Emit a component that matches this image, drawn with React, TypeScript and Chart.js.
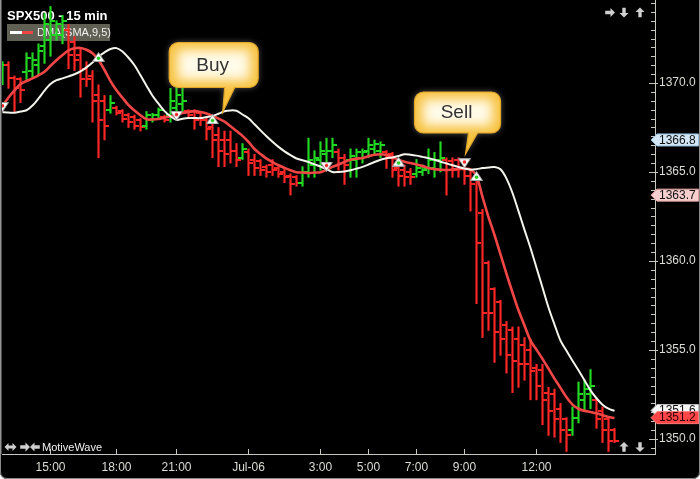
import React, { useEffect, useRef } from 'react';
import { Chart, registerables } from 'chart.js';

Chart.register(...registerables);

// ---------- data (15-min bars, index 0..102) ----------
const opens = [
  1370.4, 1371.0, 1370.3, 1370.2, 1370.6, 1370.7, 1371.0, 1372.1, 1372.4, 1372.7,
  1372.7, 1373.0, 1372.3, 1371.6, 1370.8, 1370.4, 1369.3, 1369.0, 1368.5, 1368.6,
  1368.4, 1368.2, 1368.1, 1367.9, 1367.6, 1367.9, 1368.2, 1368.1, 1368.2, 1368.6,
  1368.8, 1368.4, 1368.4, 1368.3, 1367.9, 1367.5, 1367.1, 1366.8, 1366.8, 1366.2,
  1365.8, 1366.1, 1365.7, 1365.6, 1365.3, 1365.4, 1365.2, 1365.0, 1364.8, 1364.7,
  1364.4, 1365.0, 1365.4, 1365.7, 1366.0, 1366.2, 1366.1, 1365.8, 1365.7, 1365.7,
  1365.8, 1366.2, 1366.3, 1366.2, 1366.1, 1366.0, 1365.2, 1365.1, 1365.0, 1364.9,
  1365.0, 1365.2, 1365.2, 1365.7, 1365.7, 1365.6, 1365.7, 1365.2, 1364.8, 1364.6,
  1362.7, 1359.9, 1358.4, 1357.7, 1356.4, 1356.1, 1355.6, 1355.3, 1355.0, 1354.0,
  1353.9, 1352.6, 1352.5, 1351.7, 1351.1, 1350.5, 1351.2, 1352.2, 1352.5, 1352.2,
  1351.6, 1351.1, 1350.5,
];
const highs = [
  1371.2, 1371.2, 1370.4, 1370.3, 1371.7, 1371.7, 1372.2, 1373.9, 1374.3, 1373.5,
  1373.8, 1373.3, 1372.6, 1372.0, 1371.2, 1370.7, 1369.9, 1369.3, 1369.3, 1368.7,
  1368.5, 1368.3, 1368.2, 1368.0, 1368.4, 1368.3, 1368.6, 1368.2, 1369.7, 1369.8,
  1369.7, 1368.5, 1368.5, 1368.4, 1368.1, 1367.8, 1367.5, 1367.3, 1367.3, 1366.6,
  1366.6, 1366.3, 1366.0, 1365.7, 1365.4, 1365.7, 1365.3, 1365.2, 1364.9, 1364.8,
  1365.3, 1366.9, 1366.2, 1366.7, 1366.9, 1366.9, 1366.3, 1366.0, 1366.3, 1366.3,
  1366.3, 1366.9, 1366.8, 1366.7, 1366.2, 1366.1, 1365.5, 1365.4, 1365.2, 1365.7,
  1365.4, 1366.3, 1366.1, 1366.7, 1365.8, 1365.8, 1365.8, 1365.5, 1365.1, 1364.7,
  1362.9, 1360.0, 1358.5, 1357.8, 1356.6, 1356.3, 1356.3, 1355.7, 1355.6, 1354.2,
  1354.2, 1352.9, 1352.8, 1352.0, 1351.2, 1351.8, 1353.2, 1353.3, 1353.9, 1352.3,
  1351.8, 1351.2, 1350.6,
];
const lows = [
  1369.9, 1369.7, 1368.4, 1368.9, 1370.2, 1370.3, 1370.4, 1371.1, 1371.5, 1372.4,
  1372.2, 1370.8, 1370.7, 1369.2, 1369.8, 1367.8, 1365.8, 1366.8, 1368.3, 1368.2,
  1367.8, 1367.5, 1367.4, 1367.3, 1367.4, 1367.8, 1368.0, 1367.8, 1367.8, 1367.9,
  1368.3, 1368.0, 1367.4, 1367.6, 1366.8, 1365.8, 1365.3, 1365.3, 1365.5, 1365.3,
  1365.7, 1364.8, 1364.8, 1364.8, 1364.7, 1364.8, 1364.7, 1364.4, 1363.7, 1364.2,
  1364.2, 1364.7, 1364.7, 1365.1, 1365.2, 1365.8, 1365.1, 1364.3, 1364.7, 1364.7,
  1365.5, 1365.8, 1366.0, 1365.8, 1365.2, 1364.7, 1364.2, 1364.2, 1364.3, 1364.7,
  1364.8, 1364.9, 1364.7, 1365.0, 1363.7, 1364.7, 1364.7, 1364.3, 1362.8, 1357.6,
  1355.7, 1356.1, 1354.3, 1354.7, 1353.7, 1352.6, 1352.9, 1353.3, 1352.2, 1352.2,
  1350.8, 1350.2, 1350.1, 1349.8, 1349.3, 1350.2, 1350.9, 1351.6, 1351.7, 1350.6,
  1349.8, 1349.3, 1349.8,
];
const closes = [
  1371.0, 1370.3, 1369.7, 1369.6, 1371.4, 1371.3, 1371.8, 1373.3, 1373.5, 1373.3,
  1373.5, 1371.6, 1371.3, 1370.2, 1370.2, 1369.0, 1367.9, 1367.6, 1368.9, 1368.3,
  1368.0, 1367.8, 1367.6, 1367.5, 1368.2, 1368.2, 1368.5, 1367.9, 1369.0, 1369.3,
  1369.0, 1368.2, 1367.9, 1367.9, 1367.4, 1366.8, 1366.2, 1366.0, 1366.2, 1365.7,
  1366.3, 1365.5, 1365.2, 1365.1, 1365.0, 1365.1, 1364.9, 1364.7, 1364.3, 1364.4,
  1365.0, 1365.7, 1365.8, 1366.2, 1366.2, 1366.5, 1365.8, 1365.4, 1365.9, 1366.1,
  1366.1, 1366.5, 1366.6, 1366.5, 1365.8, 1365.1, 1364.8, 1364.7, 1364.7, 1365.2,
  1365.1, 1365.7, 1365.7, 1365.8, 1365.1, 1365.1, 1365.2, 1364.8, 1364.3, 1361.0,
  1357.1, 1357.1, 1356.0, 1355.6, 1354.7, 1354.4, 1354.2, 1354.2, 1353.8, 1353.0,
  1352.2, 1351.6, 1351.1, 1350.5, 1350.2, 1351.2, 1352.5, 1352.8, 1353.0, 1351.1,
  1350.5, 1349.9, 1349.9,
];
// DMA(SMA,9,5): fast (red) and slow (white) averages
const fastMA = [
  1368.71, 1369.19, 1369.59, 1369.94, 1370.11, 1370.26, 1370.43, 1370.63, 1370.97, 1371.28,
  1371.57, 1371.83, 1371.95, 1371.97, 1371.87, 1371.67, 1371.29, 1370.73, 1370.11, 1369.59,
  1369.17, 1368.76, 1368.46, 1368.19, 1367.96, 1367.95, 1367.98, 1368.05, 1368.13, 1368.22,
  1368.31, 1368.37, 1368.42, 1368.37, 1368.29, 1368.15, 1368.00, 1367.83, 1367.57, 1367.30,
  1367.03, 1366.69, 1366.29, 1366.01, 1365.75, 1365.55, 1365.38, 1365.23, 1365.10, 1364.99,
  1364.97, 1364.94, 1364.97, 1364.99, 1365.12, 1365.29, 1365.42, 1365.56, 1365.69, 1365.75,
  1365.79, 1365.89, 1365.97, 1366.00, 1365.96, 1365.83, 1365.67, 1365.58, 1365.50, 1365.42,
  1365.33, 1365.23, 1365.16, 1365.13, 1365.11, 1365.14, 1365.17, 1365.17, 1365.15, 1364.78,
  1363.60, 1362.47, 1361.46, 1360.37, 1359.27, 1358.23, 1357.23, 1356.38, 1355.53, 1355.02,
  1354.50, 1353.95, 1353.39, 1352.87, 1352.34, 1351.93, 1351.70, 1351.58, 1351.52, 1351.44,
  1351.34, 1351.24, 1351.18,
];
const slowMA = [
  1368.36, 1368.34, 1368.33, 1368.40, 1368.47, 1368.74, 1369.13, 1369.57, 1369.94, 1370.16,
  1370.26, 1370.37, 1370.49, 1370.65, 1370.88, 1371.15, 1371.48, 1371.72, 1371.91, 1371.96,
  1371.77, 1371.42, 1371.00, 1370.43, 1369.85, 1369.28, 1368.84, 1368.42, 1368.13, 1367.93,
  1367.99, 1368.03, 1368.03, 1368.03, 1368.09, 1368.14, 1368.27, 1368.41, 1368.46, 1368.44,
  1368.23, 1368.02, 1367.68, 1367.34, 1367.01, 1366.70, 1366.41, 1366.16, 1365.95, 1365.76,
  1365.66, 1365.56, 1365.43, 1365.31, 1365.16, 1365.00, 1365.00, 1365.03, 1365.10, 1365.19,
  1365.29, 1365.42, 1365.56, 1365.69, 1365.77, 1365.82, 1365.90, 1366.00, 1365.97, 1365.92,
  1365.85, 1365.78, 1365.69, 1365.58, 1365.48, 1365.38, 1365.28, 1365.20, 1365.13, 1365.16,
  1365.22, 1365.25, 1365.28, 1365.15, 1364.63, 1363.82, 1362.80, 1361.75, 1360.73, 1359.62,
  1358.51, 1357.39, 1356.43, 1355.53, 1354.96, 1354.40, 1353.86, 1353.30, 1352.73, 1352.29,
  1351.93, 1351.70, 1351.58,
];
const timeTickIndex = [8, 19, 29, 41, 53, 61, 69, 77, 89];
const timeTickLabels = ['15:00', '18:00', '21:00', 'Jul-06', '3:00', '5:00', '7:00', '9:00', '12:00'];
const sellSignalIndex = [0, 29, 54, 77];
const sellSignalPrice = [1368.65, 1368.16, 1365.3, 1365.49];
const buySignalIndex = [16, 35, 66, 79];
const buySignalPrice = [1371.46, 1367.96, 1365.58, 1364.78];
const calloutText = ['Buy', 'Sell'];
const calloutIndex = [36.7, 77.17];
const calloutPrice = [1368.37, 1366.01];
const badgeValues = [1366.8, 1363.7, 1351.6, 1351.2];

// ---------- styling ----------
const GREEN = '#22d822';
const RED = '#ff2626';
const FONT = '"Liberation Sans", Arial, sans-serif';
const AXIS = '#c8c8c0';
const LABEL = '#dcdcd4';

const calloutGeom = [
  { l: -53.5, r: 35.5, t: -69.5, b: -24.5, tail0: 2, tail1: 12 },
  { l: -51, r: 35, t: -62, b: -21, tail0: 3, tail1: 12 },
];
const badgeStyles = [
  { fill: '#d2e6f5', stroke: '#98bedc', text: '#111111' },
  { fill: '#f7cfcf', stroke: '#dc9c9c', text: '#111111' },
  { fill: '#f6f6f6', stroke: '#bdbdbd', text: '#111111' },
  { fill: '#ff4646', stroke: '#ff7a7a', text: '#2a0000' },
];

function blockArrow(ctx: CanvasRenderingContext2D, cx: number, cy: number, angle: number, color: string) {
  ctx.save();
  ctx.translate(cx, cy);
  ctx.rotate(angle);
  ctx.beginPath();
  ctx.moveTo(5, 0);
  ctx.lineTo(0.5, -4.6);
  ctx.lineTo(0.5, -1.7);
  ctx.lineTo(-4.8, -1.7);
  ctx.lineTo(-4.8, 1.7);
  ctx.lineTo(0.5, 1.7);
  ctx.lineTo(0.5, 4.6);
  ctx.closePath();
  ctx.fillStyle = color;
  ctx.fill();
  ctx.restore();
}

function doubleArrow(ctx: CanvasRenderingContext2D, cx: number, cy: number, color: string) {
  ctx.save();
  ctx.translate(cx, cy);
  ctx.beginPath();
  ctx.moveTo(-6, 0);
  ctx.lineTo(-2, -4);
  ctx.lineTo(-2, -1.5);
  ctx.lineTo(2, -1.5);
  ctx.lineTo(2, -4);
  ctx.lineTo(6, 0);
  ctx.lineTo(2, 4);
  ctx.lineTo(2, 1.5);
  ctx.lineTo(-2, 1.5);
  ctx.lineTo(-2, 4);
  ctx.closePath();
  ctx.fillStyle = color;
  ctx.fill();
  ctx.restore();
}

function calloutPath(ctx: CanvasRenderingContext2D, tx: number, ty: number, g: any) {
  const L = tx + g.l, R = tx + g.r, T = ty + g.t, B = ty + g.b, r = 9;
  ctx.beginPath();
  ctx.moveTo(L + r, T);
  ctx.lineTo(R - r, T);
  ctx.arcTo(R, T, R, T + r, r);
  ctx.lineTo(R, B - r);
  ctx.arcTo(R, B, R - r, B, r);
  ctx.lineTo(tx + g.tail1, B);
  ctx.lineTo(tx, ty);
  ctx.lineTo(tx + g.tail0, B);
  ctx.lineTo(L + r, B);
  ctx.arcTo(L, B, L, B - r, r);
  ctx.lineTo(L, T + r);
  ctx.arcTo(L, T, L + r, T, r);
  ctx.closePath();
  return { L, R, T, B };
}

const decor = {
  id: 'decor',
  beforeDraw(chart: any) {
    const { ctx, width: W, height: H } = chart;
    const r = 7;
    ctx.save();
    ctx.fillStyle = '#ffffff';
    ctx.fillRect(0, 0, W, H);
    ctx.beginPath();
    ctx.moveTo(0, 0);
    ctx.lineTo(W, 0);
    ctx.lineTo(W, H - r);
    ctx.arcTo(W, H, W - r, H, r);
    ctx.lineTo(r, H);
    ctx.arcTo(0, H, 0, H - r, r);
    ctx.closePath();
    ctx.fillStyle = '#000000';
    ctx.fill();
    ctx.beginPath();
    ctx.moveTo(0.5, 0);
    ctx.lineTo(0.5, H - r);
    ctx.arcTo(0.5, H - 0.5, r, H - 0.5, r - 0.5);
    ctx.lineTo(W - r, H - 0.5);
    ctx.arcTo(W - 0.5, H - 0.5, W - 0.5, H - r, r - 0.5);
    ctx.lineTo(W - 0.5, 0);
    ctx.strokeStyle = '#8a8a8a';
    ctx.lineWidth = 1;
    ctx.stroke();
    ctx.restore();
  },
  beforeDatasetsDraw(chart: any) {
    const { ctx } = chart;
    ctx.save();
    ctx.font = 'bold 13px ' + FONT;
    ctx.fillStyle = '#ffffff';
    ctx.textBaseline = 'middle';
    ctx.textAlign = 'left';
    ctx.fillText('SPX500 - 15 min', 7, 16);
    ctx.fillStyle = 'rgba(104,104,92,0.92)';
    ctx.fillRect(7, 24, 103, 17);
    ctx.lineWidth = 3;
    ctx.strokeStyle = '#ffffff';
    ctx.beginPath();
    ctx.moveTo(10, 32.5);
    ctx.lineTo(22, 32.5);
    ctx.stroke();
    ctx.strokeStyle = '#f04545';
    ctx.beginPath();
    ctx.moveTo(22, 32.5);
    ctx.lineTo(33, 32.5);
    ctx.stroke();
    ctx.font = '11px ' + FONT;
    ctx.fillStyle = '#f0f0f0';
    ctx.fillText('DMA(SMA,9,5)', 37, 33);
    ctx.restore();
  },
  afterDatasetsDraw(chart: any) {
    const { ctx } = chart;
    const xs = chart.scales.x;
    const ys = chart.scales.y;
    const area = chart.chartArea;
    ctx.save();
    ctx.strokeStyle = AXIS;
    ctx.lineWidth = 1;
    ys.ticks.forEach((t: any) => {
      const y = Math.round(ys.getPixelForValue(t.value)) + 0.5;
      const major = Math.abs(t.value / 5 - Math.round(t.value / 5)) < 1e-6;
      ctx.beginPath();
      ctx.moveTo(area.right - (major ? 6 : 4), y);
      ctx.lineTo(area.right + (major ? 3 : 0), y);
      ctx.stroke();
    });
    timeTickIndex.forEach((v) => {
      const x = Math.floor(xs.getPixelForValue(v)) + 0.5;
      ctx.beginPath();
      ctx.moveTo(x, area.bottom - 5);
      ctx.lineTo(x, area.bottom);
      ctx.stroke();
    });
    ctx.strokeStyle = '#9a9a9a';
    ctx.beginPath();
    ctx.moveTo(1, 0);
    ctx.lineTo(1, area.bottom);
    ctx.stroke();

    calloutText.forEach((txt, k) => {
      const tx = xs.getPixelForValue(calloutIndex[k]);
      const ty = ys.getPixelForValue(calloutPrice[k]);
      const g = calloutGeom[k];
      ctx.save();
      const box = calloutPath(ctx, tx, ty, g);
      ctx.shadowColor = 'rgba(150,150,150,0.6)';
      ctx.shadowBlur = 6;
      ctx.fillStyle = '#f7c13c';
      ctx.fill();
      ctx.shadowBlur = 0;
      ctx.shadowColor = 'transparent';
      ctx.clip();
      ctx.filter = 'blur(6px)';
      ctx.fillStyle = '#fffbea';
      ctx.fillRect(box.L + 8, box.T + 7, box.R - box.L - 16, box.B - box.T - 14);
      ctx.filter = 'none';
      ctx.restore();
      ctx.save();
      calloutPath(ctx, tx, ty, g);
      ctx.strokeStyle = '#e2a628';
      ctx.lineWidth = 1.2;
      ctx.stroke();
      ctx.font = '19px ' + FONT;
      ctx.fillStyle = '#333333';
      ctx.textAlign = 'center';
      ctx.textBaseline = 'middle';
      ctx.fillText(txt, (box.L + box.R) / 2 - 1, (box.T + box.B) / 2 + 0.5);
      ctx.restore();
    });

    badgeValues.forEach((v, k) => {
      const y = ys.getPixelForValue(v);
      const st = badgeStyles[k];
      const h = 12;
      const x0 = area.right - 4;
      const x1 = area.right + 2;
      const x2 = chart.width - 1.5;
      ctx.beginPath();
      ctx.moveTo(x0, y);
      ctx.lineTo(x1, y - h / 2);
      ctx.lineTo(x2, y - h / 2);
      ctx.lineTo(x2, y + h / 2);
      ctx.lineTo(x1, y + h / 2);
      ctx.closePath();
      ctx.fillStyle = st.fill;
      ctx.fill();
      ctx.strokeStyle = st.stroke;
      ctx.lineWidth = 1;
      ctx.stroke();
      ctx.font = '12px ' + FONT;
      ctx.fillStyle = st.text;
      ctx.textAlign = 'left';
      ctx.textBaseline = 'middle';
      ctx.fillText(v.toFixed(1), area.right + 4, y + 0.5);
    });

    const ic = '#cfcfcf';
    blockArrow(ctx, 610, 12.5, 0, ic);
    blockArrow(ctx, 624, 12.5, Math.PI / 2, ic);
    blockArrow(ctx, 640, 12.5, -Math.PI / 2, ic);
    blockArrow(ctx, 624, 447, -Math.PI / 2, ic);
    blockArrow(ctx, 640, 447, Math.PI / 2, ic);
    doubleArrow(ctx, 10.5, 447, ic);
    blockArrow(ctx, 25, 447, 0, ic);
    blockArrow(ctx, 35, 447, Math.PI, ic);
    ctx.font = '11px ' + FONT;
    ctx.fillStyle = '#f0f0f0';
    ctx.textAlign = 'left';
    ctx.textBaseline = 'middle';
    ctx.fillText('MotiveWave', 42, 447.5);
    ctx.restore();
  },
};

function makeTick(color: string, left: boolean) {
  const c = document.createElement('canvas');
  c.width = 9;
  c.height = 2;
  const g = c.getContext('2d')!;
  g.fillStyle = color;
  g.fillRect(left ? 0 : 5, 0, 4, 2);
  return c;
}

function makeTriangle(up: boolean, dot: string) {
  const c = document.createElement('canvas');
  c.width = 13;
  c.height = 10;
  const g = c.getContext('2d')!;
  g.beginPath();
  if (up) {
    g.moveTo(6.5, 0.5);
    g.lineTo(12.5, 9.5);
    g.lineTo(0.5, 9.5);
  } else {
    g.moveTo(0.5, 0.5);
    g.lineTo(12.5, 0.5);
    g.lineTo(6.5, 9.5);
  }
  g.closePath();
  g.fillStyle = '#ffffff';
  g.fill();
  g.strokeStyle = '#9c9c9c';
  g.lineWidth = 1;
  g.stroke();
  g.beginPath();
  g.arc(6.5, up ? 6.3 : 3.7, 1.8, 0, Math.PI * 2);
  g.fillStyle = dot;
  g.fill();
  return c;
}

export default function App() {
  const ref = useRef<HTMLCanvasElement>(null);

  useEffect(() => {
    document.body.style.margin = '0';
    const canvas = ref.current;
    if (!canvas) return;
    const idx = opens.map((_, i) => i);
    const isUp = idx.map((i) => closes[i] >= opens[i]);
    const barColors = idx.map((i) => (isUp[i] ? GREEN : RED));
    const tGL = makeTick(GREEN, true);
    const tGR = makeTick(GREEN, false);
    const tRL = makeTick(RED, true);
    const tRR = makeTick(RED, false);
    const triUp = makeTriangle(true, '#22cc22');
    const triDown = makeTriangle(false, '#ee2222');

    const chart = new Chart(canvas, {
      type: 'bar',
      data: {
        datasets: [
          {
            type: 'scatter',
            label: 'sell',
            data: sellSignalIndex.map((x, i) => ({ x, y: sellSignalPrice[i] })),
            pointStyle: triDown as any,
            pointRadius: 6,
            order: 1,
          },
          {
            type: 'scatter',
            label: 'buy',
            data: buySignalIndex.map((x, i) => ({ x, y: buySignalPrice[i] })),
            pointStyle: triUp as any,
            pointRadius: 6,
            order: 1,
          },
          {
            type: 'line',
            label: 'fast',
            data: idx.map((i) => ({ x: i, y: fastMA[i] })),
            borderColor: '#f24646',
            borderWidth: 2.6,
            pointRadius: 0,
            tension: 0.3,
            order: 3,
          },
          {
            type: 'line',
            label: 'slow',
            data: idx.map((i) => ({ x: i, y: slowMA[i] })),
            borderColor: '#f4f4ec',
            borderWidth: 2,
            pointRadius: 0,
            tension: 0.3,
            order: 2,
          },
          {
            type: 'scatter',
            label: 'open',
            data: idx.map((i) => ({ x: i, y: opens[i] })),
            pointStyle: ((c: any) => (isUp[c.dataIndex] ? tGL : tRL)) as any,
            pointRadius: 3,
            order: 6,
          },
          {
            type: 'scatter',
            label: 'close',
            data: idx.map((i) => ({ x: i, y: closes[i] })),
            pointStyle: ((c: any) => (isUp[c.dataIndex] ? tGR : tRR)) as any,
            pointRadius: 3,
            order: 6,
          },
          {
            type: 'bar',
            label: 'range',
            data: idx.map((i) => ({ x: i, y: [lows[i], highs[i]] })) as any,
            backgroundColor: barColors,
            borderWidth: 0,
            barThickness: 1.5,
            grouped: false,
            order: 8,
          },
        ] as any,
      },
      options: {
        animation: false,
        responsive: false,
        events: [],
        layout: { padding: { left: 2, top: 0, right: 0, bottom: 0 }, autoPadding: false } as any,
        plugins: { legend: { display: false }, tooltip: { enabled: false } },
        scales: {
          x: {
            type: 'linear',
            min: -0.08333,
            max: 108.75,
            offset: false,
            grid: { display: true, drawOnChartArea: false, drawTicks: false, offset: false },
            border: { display: true, color: AXIS, width: 1 },
            afterFit: (s: any) => {
              s.height = 25;
              s.paddingLeft = 0;
              s.paddingRight = 0;
            },
            afterBuildTicks: (s: any) => {
              s.ticks = timeTickIndex.map((v) => ({ value: v }));
            },
            ticks: {
              autoSkip: false,
              maxRotation: 0,
              minRotation: 0,
              padding: 6,
              color: LABEL,
              font: { family: FONT, size: 12 },
              callback: (v: any) => {
                const k = timeTickIndex.indexOf(Number(v));
                return k >= 0 ? timeTickLabels[k] : '';
              },
            },
          },
          y: {
            type: 'linear',
            position: 'right',
            min: 1349.157,
            max: 1374.663,
            beginAtZero: false,
            grid: { display: true, drawOnChartArea: false, drawTicks: false },
            border: { display: true, color: AXIS, width: 1 },
            afterFit: (s: any) => {
              s.width = 45;
              s.paddingTop = 0;
              s.paddingBottom = 0;
            },
            ticks: {
              stepSize: 0.5,
              autoSkip: false,
              includeBounds: false,
              padding: 4,
              color: LABEL,
              font: { family: FONT, size: 12 },
              callback: (v: any) => {
                const n = Number(v);
                return Math.abs(n / 5 - Math.round(n / 5)) < 1e-6 ? n.toFixed(1) : '';
              },
            },
          },
        },
      } as any,
      plugins: [decor as any],
    });
    return () => chart.destroy();
  }, []);

  return <canvas ref={ref} width={700} height={479} style={{ display: 'block' }} />;
}
